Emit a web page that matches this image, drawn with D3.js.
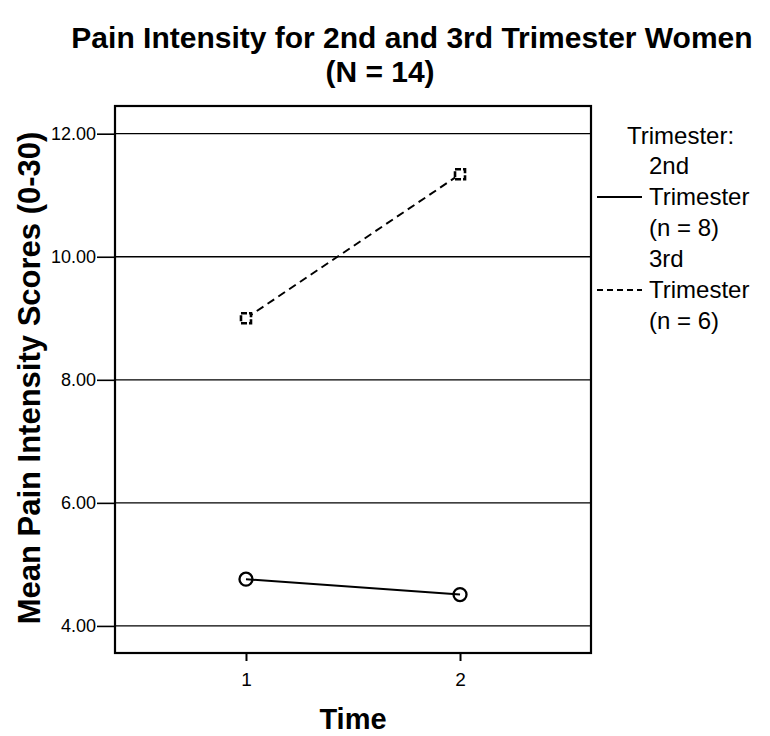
<!DOCTYPE html>
<html>
<head>
<meta charset="utf-8">
<script src="https://cdn.jsdelivr.net/npm/d3@7"></script>
<style>
  body { margin: 0; background: #fff; }
  text { font-family: "Liberation Sans", Arial, sans-serif; fill: #000; }
</style>
</head>
<body>
<div id="chart"></div>
<script>
// data
var times = [1, 2];
var yTicks = [4, 6, 8, 10, 12];
var second = [4.76, 4.51];   // 2nd trimester (n = 8)
var third = [9.0, 11.34];    // 3rd trimester (n = 6)
var legendTitle = "Trimester:";
var legendLabels = [["2nd", "Trimester", "(n = 8)"], ["3rd", "Trimester", "(n = 6)"]];

var width = 770, height = 736;
var plotLeft = 115, plotRight = 591, plotTop = 106, plotBottom = 653;

var svg = d3.select("#chart").append("svg")
  .attr("width", width)
  .attr("height", height);

var x = d3.scaleLinear().domain([0.388, 2.612]).range([plotLeft, plotRight]);
var y = d3.scaleLinear().domain([3.56, 12.45]).range([plotBottom, plotTop]);

// title
svg.append("text")
  .attr("x", 412).attr("y", 48)
  .attr("text-anchor", "middle")
  .style("font-size", "30px").style("font-weight", "bold")
  .text("Pain Intensity for 2nd and 3rd Trimester Women");
svg.append("text")
  .attr("x", 380).attr("y", 82)
  .attr("text-anchor", "middle")
  .style("font-size", "30px").style("font-weight", "bold")
  .text("(N = 14)");

// gridlines
svg.append("g").selectAll("line")
  .data(yTicks)
  .enter().append("line")
  .attr("x1", plotLeft).attr("x2", plotRight)
  .attr("y1", function(d) { return y(d); })
  .attr("y2", function(d) { return y(d); })
  .style("stroke", "#000").style("stroke-width", 1.3);

// y axis
var yAxis = svg.append("g")
  .attr("transform", "translate(" + plotLeft + ",0)")
  .call(d3.axisLeft(y).tickValues(yTicks).tickSize(18).tickPadding(1)
    .tickFormat(d3.format(".2f")));
yAxis.select(".domain").remove();
yAxis.selectAll(".tick line").style("stroke-width", 1.6);
yAxis.selectAll("text").style("font-size", "18px")
  .style("font-family", "'Liberation Sans', Arial, sans-serif");

// x axis
var xAxis = svg.append("g")
  .attr("transform", "translate(0," + plotBottom + ")")
  .call(d3.axisBottom(x).tickValues(times).tickSize(8).tickPadding(12)
    .tickFormat(d3.format("d")));
xAxis.select(".domain").remove();
xAxis.selectAll(".tick line").style("stroke-width", 2);
xAxis.selectAll("text").style("font-size", "19px")
  .style("font-family", "'Liberation Sans', Arial, sans-serif");

// frame
svg.append("rect")
  .attr("x", plotLeft).attr("y", plotTop)
  .attr("width", plotRight - plotLeft).attr("height", plotBottom - plotTop)
  .style("fill", "none").style("stroke", "#000").style("stroke-width", 2.2);

// axis titles
svg.append("text")
  .attr("transform", "translate(40," + 378 + ") rotate(-90)")
  .attr("text-anchor", "middle")
  .style("font-size", "31px").style("font-weight", "bold")
  .text("Mean Pain Intensity Scores (0-30)");
svg.append("text")
  .attr("x", (x(1) + x(2)) / 2).attr("y", 729)
  .attr("text-anchor", "middle")
  .style("font-size", "29px").style("font-weight", "bold")
  .text("Time");

var line = d3.line()
  .x(function(d, i) { return x(times[i]); })
  .y(function(d) { return y(d); });

// 2nd trimester: solid with circles
svg.append("path")
  .datum(second)
  .attr("d", line)
  .style("fill", "none").style("stroke", "#000").style("stroke-width", 2);
svg.append("g").selectAll("circle")
  .data(second)
  .enter().append("circle")
  .attr("cx", function(d, i) { return x(times[i]); })
  .attr("cy", function(d) { return y(d); })
  .attr("r", 6.5)
  .style("fill", "none").style("stroke", "#000").style("stroke-width", 2.3);

// 3rd trimester: dashed with small squares
svg.append("path")
  .datum(third)
  .attr("d", line)
  .style("fill", "none").style("stroke", "#000").style("stroke-width", 2)
  .style("stroke-dasharray", "8,5");
svg.append("g").selectAll("rect")
  .data(third)
  .enter().append("rect")
  .attr("x", function(d, i) { return x(times[i]) - 5; })
  .attr("y", function(d) { return y(d) - 5; })
  .attr("width", 10).attr("height", 10)
  .style("fill", "#fff").style("stroke", "#000").style("stroke-width", 2.6)
  .style("stroke-dasharray", "6,2");

// legend
var legend = svg.append("g");
legend.append("text")
  .attr("x", 627).attr("y", 144)
  .style("font-size", "24px")
  .text(legendTitle);

var legendDash = [null, "6,4"];
legendLabels.forEach(function(lines, k) {
  var y0 = 174 + k * 93;
  var t = legend.append("text")
    .attr("x", 649).attr("y", y0)
    .style("font-size", "24px");
  lines.forEach(function(s, j) {
    t.append("tspan").attr("x", 649).attr("dy", j === 0 ? 0 : 31).text(s);
  });
  legend.append("line")
    .attr("x1", 597).attr("x2", 642)
    .attr("y1", y0 + 23).attr("y2", y0 + 23)
    .style("stroke", "#000").style("stroke-width", 2)
    .style("stroke-dasharray", legendDash[k]);
});
</script>
</body>
</html>
